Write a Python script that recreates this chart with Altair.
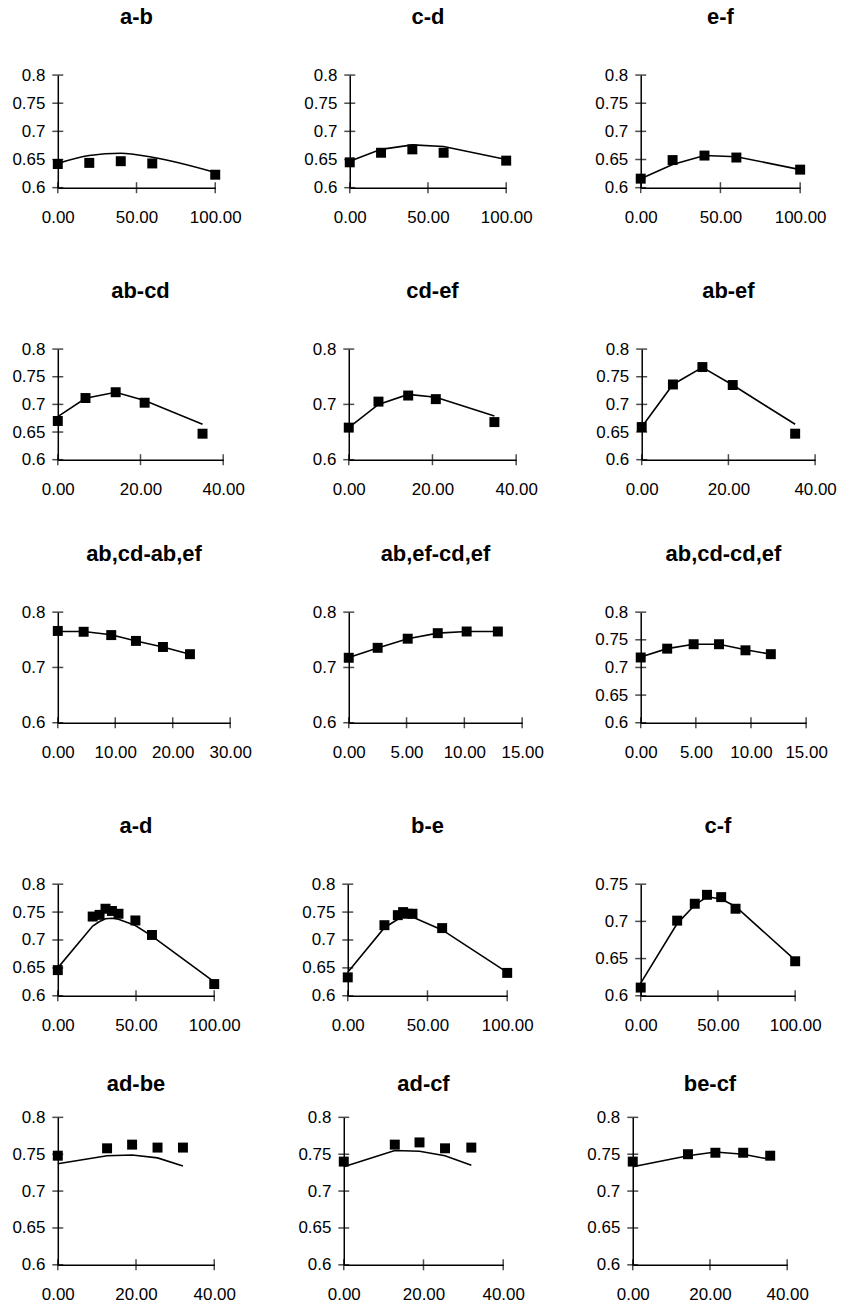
import altair as alt
import pandas as pd

FONT = "Liberation Sans"

# ---------------- data ----------------
titles = ["a-b", "c-d", "e-f",
          "ab-cd", "cd-ef", "ab-ef",
          "ab,cd-ab,ef", "ab,ef-cd,ef", "ab,cd-cd,ef",
          "a-d", "b-e", "c-f",
          "ad-be", "ad-cf", "be-cf"]

x_ab = [0, 20, 40, 60, 100]
obs_ab = [0.642, 0.644, 0.647, 0.643, 0.623]
fit_ab = [0.643, 0.657, 0.661, 0.654, 0.627]

x_cd = [0, 20, 40, 60, 100]
obs_cd = [0.645, 0.662, 0.668, 0.662, 0.648]
fit_cd = [0.647, 0.668, 0.676, 0.673, 0.650]

x_ef = [0, 20, 40, 60, 100]
obs_ef = [0.616, 0.649, 0.657, 0.6535, 0.632]
fit_ef = [0.616, 0.641, 0.657, 0.655, 0.632]

x_abcd = [0, 6.7, 14, 21, 35]
obs_abcd = [0.670, 0.7115, 0.722, 0.703, 0.647]
fit_abcd = [0.678, 0.711, 0.722, 0.707, 0.664]

x_cdef = [0, 7.1, 14.2, 20.8, 34.8]
obs_cdef = [0.658, 0.705, 0.716, 0.7095, 0.668]
fit_cdef = [0.658, 0.700, 0.718, 0.713, 0.679]

x_abef = [0, 7.2, 14, 21, 35.4]
obs_abef = [0.659, 0.736, 0.7675, 0.735, 0.647]
fit_abef = [0.659, 0.736, 0.767, 0.735, 0.664]

x_r31 = [0, 4.5, 9.3, 13.6, 18.3, 23]
obs_r31 = [0.766, 0.7645, 0.7585, 0.748, 0.737, 0.724]
fit_r31 = [0.765, 0.765, 0.759, 0.748, 0.737, 0.724]

x_r32 = [0, 2.5, 5.1, 7.7, 10.2, 12.9]
obs_r32 = [0.7175, 0.7355, 0.752, 0.762, 0.765, 0.765]
fit_r32 = [0.718, 0.735, 0.752, 0.762, 0.765, 0.765]

x_r33 = [0, 2.4, 4.8, 7.1, 9.5, 11.8]
obs_r33 = [0.718, 0.734, 0.742, 0.742, 0.731, 0.724]
fit_r33 = [0.719, 0.734, 0.742, 0.742, 0.732, 0.724]

x_ad = [0, 22.3, 26.7, 30.5, 34.6, 38.8, 49.6, 60.2, 100]
obs_ad = [0.646, 0.742, 0.745, 0.756, 0.752, 0.747, 0.735, 0.709, 0.621]
fit_ad = [0.650, 0.725, 0.733, 0.738, 0.739, 0.737, 0.726, 0.707, 0.625]

x_be = [0, 23, 31.4, 34.7, 37.7, 40.6, 59.2, 100]
obs_be = [0.633, 0.7265, 0.7445, 0.750, 0.747, 0.747, 0.7213, 0.641]
fit_be = [0.642, 0.722, 0.737, 0.741, 0.742, 0.741, 0.718, 0.642]

x_cf = [0, 23.6, 35, 42.9, 52.1, 61.4, 100]
obs_cf = [0.611, 0.701, 0.7237, 0.7357, 0.7326, 0.717, 0.6464]
fit_cf = [0.617, 0.697, 0.722, 0.733, 0.730, 0.720, 0.648]

x_adbe = [0, 12.6, 19, 25.5, 32]
obs_adbe = [0.748, 0.758, 0.763, 0.759, 0.759]
fit_adbe = [0.737, 0.748, 0.749, 0.745, 0.734]

x_adcf = [0, 12.8, 19, 25.4, 32]
obs_adcf = [0.740, 0.763, 0.766, 0.758, 0.759]
fit_adcf = [0.733, 0.755, 0.754, 0.748, 0.735]

x_becf = [0, 14.3, 21.4, 28.6, 35.6]
obs_becf = [0.740, 0.750, 0.752, 0.752, 0.748]
fit_becf = [0.733, 0.748, 0.753, 0.750, 0.743]

# tick values
xt_100 = [0, 50, 100]
xt_40 = [0, 20, 40]
xt_30 = [0, 10, 20, 30]
xt_15 = [0, 5, 10, 15]
yt_5 = [0.6, 0.65, 0.7, 0.75, 0.8]
yt_3 = [0.6, 0.7, 0.8]
yt_cf = [0.6, 0.65, 0.7, 0.75]

LABEL_SIZE = 17


def panel(title, xs, obs, fit, xticks, yticks, width, height, toff=37, interp="linear"):
    df_obs = pd.DataFrame({"x": xs, "y": obs})
    df_fit = pd.DataFrame({"x": xs, "y": fit})
    xsc = alt.Scale(domain=[xticks[0], xticks[-1]], nice=False, zero=False)
    ysc = alt.Scale(domain=[yticks[0], yticks[-1]], nice=False, zero=False)
    xax = alt.Axis(values=xticks, format=".2f", ticks=False, grid=False,
                   domainColor="black", domainWidth=1.5, labelPadding=22,
                   labelFontSize=LABEL_SIZE, labelFont=FONT, labelColor="black",
                   labelOverlap=False, labelFlush=False, title=None)
    yax = alt.Axis(values=yticks, format="~g", ticks=False, grid=False,
                   domainColor="black", domainWidth=1.5, labelPadding=13,
                   labelFontSize=LABEL_SIZE, labelFont=FONT, labelColor="black",
                   labelOverlap=False, labelFlush=False,
                   minExtent=47, maxExtent=47,
                   title=" ", titleFontSize=1, titlePadding=0)
    X = lambda f: alt.X(f, type="quantitative", scale=xsc, axis=xax)
    Y = lambda f: alt.Y(f, type="quantitative", scale=ysc, axis=yax)
    line = alt.Chart(df_fit).mark_line(color="black", strokeWidth=1.6,
                                       interpolate=interp).encode(x=X("x"), y=Y("y"))
    pts = alt.Chart(df_obs).mark_square(size=100, color="black", opacity=1).encode(
        x=X("x"), y=Y("y"))
    ytk = alt.Chart(pd.DataFrame({"v": yticks})).mark_tick(
        orient="horizontal", size=11, thickness=1.5, color="black").encode(
        y=Y("v"), x=alt.value(0))
    xtk = alt.Chart(pd.DataFrame({"v": xticks})).mark_tick(
        orient="vertical", size=11, thickness=1.5, color="black").encode(
        x=X("v"), y=alt.value(height))
    return alt.layer(ytk, xtk, line, pts).properties(
        width=width, height=height,
        title=alt.TitleParams(title, offset=toff, fontSize=22, font=FONT,
                              fontWeight="bold", color="black", anchor="middle"))


r1 = alt.hconcat(
    panel(titles[0], x_ab, obs_ab, fit_ab, xt_100, yt_5, 158, 113, interp="monotone"),
    panel(titles[1], x_cd, obs_cd, fit_cd, xt_100, yt_5, 157, 113),
    panel(titles[2], x_ef, obs_ef, fit_ef, xt_100, yt_5, 160, 113), spacing=61)
r2 = alt.hconcat(
    panel(titles[3], x_abcd, obs_abcd, fit_abcd, xt_40, yt_5, 166, 111),
    panel(titles[4], x_cdef, obs_cdef, fit_cdef, xt_40, yt_3, 168, 111),
    panel(titles[5], x_abef, obs_abef, fit_abef, xt_40, yt_5, 174, 111), spacing=56)
r3 = alt.hconcat(
    panel(titles[6], x_r31, obs_r31, fit_r31, xt_30, yt_3, 173, 111),
    panel(titles[7], x_r32, obs_r32, fit_r32, xt_15, yt_3, 174, 111),
    panel(titles[8], x_r33, obs_r33, fit_r33, xt_15, yt_5, 166, 111), spacing=49)
r4 = alt.hconcat(
    panel(titles[9], x_ad, obs_ad, fit_ad, xt_100, yt_5, 157, 112),
    panel(titles[10], x_be, obs_be, fit_be, xt_100, yt_5, 160, 112),
    panel(titles[11], x_cf, obs_cf, fit_cf, xt_100, yt_cf, 155, 112), spacing=60)
r5 = alt.hconcat(
    panel(titles[12], x_adbe, obs_adbe, fit_adbe, xt_40, yt_5, 157, 148, toff=12),
    panel(titles[13], x_adcf, obs_adcf, fit_adcf, xt_40, yt_5, 160, 148, toff=12),
    panel(titles[14], x_becf, obs_becf, fit_becf, xt_40, yt_5, 155, 148, toff=12), spacing=60)

v1 = alt.vconcat(r1, r2, spacing=55)
v2 = alt.vconcat(v1, r3, spacing=46)
v3 = alt.vconcat(v2, r4, spacing=55)
chart = alt.vconcat(v3, r5, spacing=40).properties(
    padding={"left": 10, "top": 4, "right": 5, "bottom": 2},
    background="white",
).configure_view(strokeWidth=0)

chart.save("out.html", embed_options={"renderer": "svg", "actions": False})
